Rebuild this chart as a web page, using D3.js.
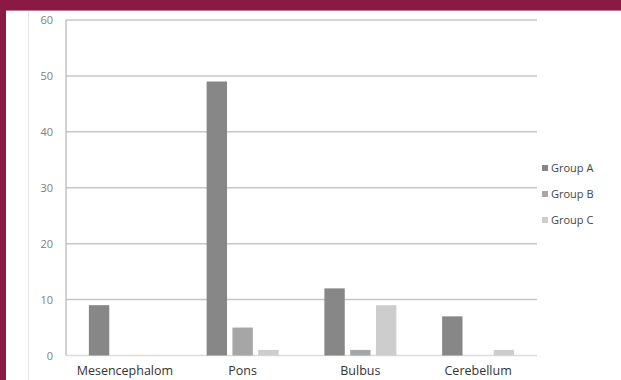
<!DOCTYPE html>
<html>
<head>
<meta charset="utf-8">
<script src="https://cdn.jsdelivr.net/npm/d3@7"></script>
<style>
  html, body { margin: 0; padding: 0; background: #fff; }
  svg { display: block; }
</style>
</head>
<body>
<svg id="chart" width="621" height="380"></svg>
<script>
// Regions and the three groups
const categories = ["Mesencephalom", "Pons", "Bulbus", "Cerebellum"];
const groups = ["Group A", "Group B", "Group C"];
const groupA = [9, 49, 12, 7];
const groupB = [0, 5, 1, 0];
const groupC = [0, 1, 9, 1];
const yTicks = [0, 10, 20, 30, 40, 50, 60];
const groupColors = ["#878787", "#a6a6a6", "#cdcdcd"];

const seriesValues = [groupA, groupB, groupC];
const rows = categories.map((c, i) => ({
  category: c,
  values: groups.map((g, j) => ({ group: g, value: seriesValues[j][i] }))
}));

const svg = d3.select("#chart");
const W = 621, H = 380;
const font = "'Open Sans', 'Liberation Sans', sans-serif";

// Frame: maroon band at top and left edge
svg.append("rect").attr("x", 0).attr("y", 0).attr("width", W).attr("height", H).attr("fill", "#fff");
svg.append("rect").attr("x", 0).attr("y", 0).attr("width", W).attr("height", 10).attr("fill", "#8a1a44");
svg.append("rect").attr("x", 0).attr("y", 10).attr("width", W).attr("height", 1).attr("fill", "#c07890");
svg.append("rect").attr("x", 0).attr("y", 0).attr("width", 6).attr("height", H).attr("fill", "#8a1a44");
svg.append("line").attr("x1", 28.5).attr("x2", 28.5).attr("y1", 11).attr("y2", H)
  .attr("stroke", "#e6e6e6").attr("stroke-width", 1);

const plotL = 66, plotR = 537, plotT = 20, plotB = 355.5;

const y = d3.scaleLinear().domain([0, 60]).range([plotB, plotT]);
const x0 = d3.scaleBand().domain(categories).range([plotL, plotR]).padding(0);
const bw = x0.bandwidth();
const groupWidth = 72;
const x1 = d3.scaleBand().domain(groups)
  .range([(bw - groupWidth) / 2, (bw + groupWidth) / 2])
  .paddingInner(0.21).paddingOuter(0);
const color = d3.scaleOrdinal().domain(groups).range(groupColors);

// Gridlines
svg.append("g").selectAll("line")
  .data(yTicks.filter(t => t > 0))
  .join("line")
  .attr("x1", plotL).attr("x2", plotR)
  .attr("y1", d => y(d)).attr("y2", d => y(d))
  .attr("stroke", "#c6c6c6").attr("stroke-width", 1.5);

// Baseline and vertical axis
svg.append("line").attr("x1", plotL).attr("x2", plotR).attr("y1", y(0)).attr("y2", y(0))
  .attr("stroke", "#dcdcdc").attr("stroke-width", 1.5);
svg.append("line").attr("x1", plotL).attr("x2", plotL).attr("y1", y(60)).attr("y2", y(0))
  .attr("stroke", "#c2c2c2").attr("stroke-width", 1.5);

// Y tick labels
const yAxis = d3.axisLeft(y).tickValues(yTicks).tickSize(0).tickPadding(13);
const gy = svg.append("g").attr("transform", `translate(${plotL},0)`).call(yAxis);
gy.select(".domain").remove();
gy.selectAll("text").attr("fill", "#808080").style("font-family", font).style("font-size", "11px");

// Bars
svg.append("g").selectAll("g")
  .data(rows)
  .join("g")
  .attr("transform", d => `translate(${x0(d.category)},0)`)
  .selectAll("rect")
  .data(d => d.values.filter(v => v.value > 0))
  .join("rect")
  .attr("x", d => x1(d.group))
  .attr("width", x1.bandwidth())
  .attr("y", d => y(d.value))
  .attr("height", d => y(0) - y(d.value))
  .attr("fill", d => color(d.group));

// Category labels
const xAxis = d3.axisBottom(x0).tickSize(0).tickPadding(11);
const gx = svg.append("g").attr("transform", `translate(0,${plotB})`).call(xAxis);
gx.select(".domain").remove();
gx.selectAll("text").attr("fill", "#333").style("font-family", font).style("font-size", "12.5px");

// Legend
const legendY = [168, 194, 220];
const legend = svg.append("g").selectAll("g")
  .data(groups)
  .join("g")
  .attr("transform", (d, i) => `translate(542,${legendY[i]})`);
legend.append("rect").attr("x", 0).attr("y", -3).attr("width", 6).attr("height", 6)
  .attr("fill", d => color(d));
legend.append("text").attr("x", 9).attr("y", 0).attr("dy", "0.35em")
  .attr("fill", "#444").style("font-family", font).style("font-size", "11px")
  .text(d => d);
</script>
</body>
</html>
